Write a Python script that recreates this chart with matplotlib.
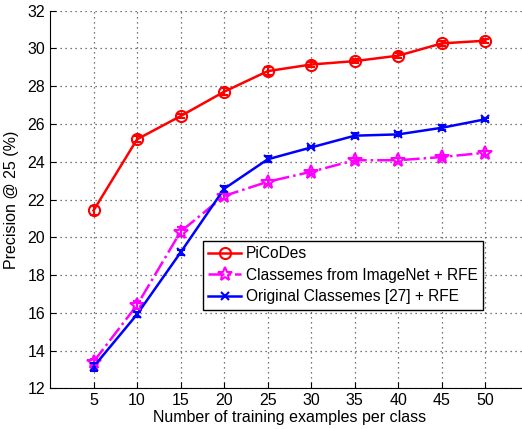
import matplotlib
matplotlib.use("Agg")
import matplotlib.pyplot as plt

plt.rcParams['font.family'] = ['Liberation Sans', 'DejaVu Sans']

n_train = [5, 10, 15, 20, 25, 30, 35, 40, 45, 50]
picodes = [21.42, 25.19, 26.42, 27.71, 28.8, 29.15, 29.33, 29.62, 30.27, 30.41]
picodes_err = [0.25, 0.15, 0.12, 0.2, 0.22, 0.12, 0.12, 0.12, 0.12, 0.1]
imagenet_rfe = [13.41, 16.41, 20.3, 22.19, 22.94, 23.47, 24.08, 24.08, 24.25, 24.48]
imagenet_err = [0.15, 0.2, 0.25, 0.15, 0.1, 0.1, 0.1, 0.1, 0.1, 0.1]
orig_rfe = [13.14, 15.92, 19.2, 22.57, 24.13, 24.76, 25.38, 25.45, 25.8, 26.25]
orig_err = [0.2, 0.12, 0.12, 0.15, 0.15, 0.05, 0.12, 0.1, 0.12, 0.08]

fig = plt.figure(figsize=(5.22, 4.29), dpi=100)
ax = fig.add_axes([50 / 522, 1 - 388.3 / 429, 479 / 522, (388.3 - 10.7) / 429])

# lines + markers
ax.plot(n_train, picodes, color='red', marker='o', mfc='none', ms=8, mew=1.5,
        lw=1.8, label='PiCoDes')
ax.plot(n_train, imagenet_rfe, color='magenta', marker='*', mfc='none', ms=10,
        mew=1.5, lw=1.8, ls='-.', label='Classemes from ImageNet + RFE')
ax.plot(n_train, orig_rfe, color='blue', marker='x', ms=6, mew=1.5, lw=1.8,
        label='Original Classemes [27] + RFE')

# error bars
ax.errorbar(n_train, picodes, yerr=picodes_err, fmt='none', ecolor='red',
            elinewidth=1.5, capsize=3, capthick=1.5)
ax.errorbar(n_train, imagenet_rfe, yerr=imagenet_err, fmt='none', ecolor='magenta',
            elinewidth=1.5, capsize=3, capthick=1.5)
ax.errorbar(n_train, orig_rfe, yerr=orig_err, fmt='none', ecolor='blue',
            elinewidth=1.5, capsize=3, capthick=1.5)

ax.set_xlim(0, 55)
ax.set_ylim(12, 32)
ax.set_xticks(n_train)
ax.set_yticks(range(12, 33, 2))
ax.grid(True, ls=(0, (1, 3)), color='0.3', lw=0.9)
ax.tick_params(direction='in', labelsize=11.5, length=4)
for s in ['top', 'right']:
    ax.spines[s].set_visible(False)

ax.set_xlabel('Number of training examples per class', fontsize=11.5, labelpad=1)
ax.set_ylabel('Precision @ 25 (%)', fontsize=11.5, labelpad=6)

leg = ax.legend(loc='upper left', bbox_to_anchor=((203 - 50) / 479, (388.3 - 240.7) / 377.6),
                fontsize=11.2, frameon=True, fancybox=False, edgecolor='black',
                framealpha=1, borderpad=0.35, handlelength=2.1, handletextpad=0.3,
                labelspacing=0.42, borderaxespad=0)
leg.get_frame().set_linewidth(1.0)

fig.savefig('out.png', dpi=100)
